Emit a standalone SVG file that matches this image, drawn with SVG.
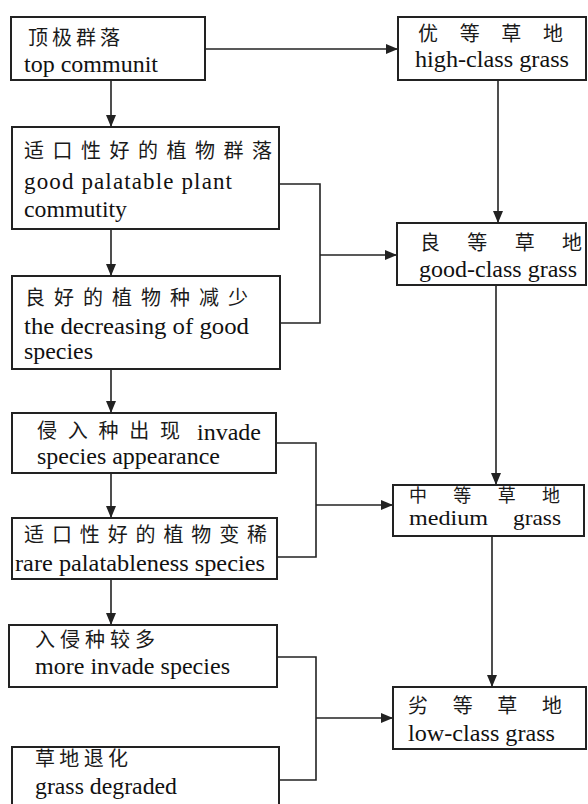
<svg xmlns="http://www.w3.org/2000/svg" width="588" height="804" viewBox="0 0 588 804">
<style>
.box{fill:#fff;stroke:#222;stroke-width:2}
.c{fill:none;stroke:#222;stroke-width:1.6}
.zh{font-family:"Noto Sans CJK SC","Noto Sans CJK JP",sans-serif;font-size:20px;fill:#1a1a1a}
.en{font-family:"Liberation Serif","Times New Roman",Times,serif;font-size:23px;fill:#111}
.sm{font-size:21px}
</style>
<defs>
<marker id="ah" markerWidth="12" markerHeight="10" refX="12" refY="5" orient="auto" markerUnits="userSpaceOnUse">
<path d="M0,0 L12,5 L0,10 z" fill="#222"/>
</marker>
</defs>
<g id="connectors">
<line class="c" x1="205" y1="49" x2="398" y2="49" marker-end="url(#ah)"/>
<line class="c" x1="111" y1="80" x2="111" y2="127" marker-end="url(#ah)"/>
<line class="c" x1="498" y1="80" x2="498" y2="223" marker-end="url(#ah)"/>
<line class="c" x1="111" y1="229" x2="111" y2="276" marker-end="url(#ah)"/>
<path class="c" d="M279,184 H320 V323 H280"/>
<line class="c" x1="320" y1="255" x2="397" y2="255" marker-end="url(#ah)"/>
<line class="c" x1="111" y1="369" x2="111" y2="413" marker-end="url(#ah)"/>
<line class="c" x1="496" y1="285" x2="496" y2="485" marker-end="url(#ah)"/>
<path class="c" d="M276,443 H316 V557 H277"/>
<line class="c" x1="316" y1="505" x2="393" y2="505" marker-end="url(#ah)"/>
<line class="c" x1="111" y1="473" x2="111" y2="518" marker-end="url(#ah)"/>
<line class="c" x1="492" y1="536" x2="492" y2="687" marker-end="url(#ah)"/>
<line class="c" x1="111" y1="579" x2="111" y2="625" marker-end="url(#ah)"/>
<path class="c" d="M277,657 H316 V780 H279"/>
<line class="c" x1="316" y1="718" x2="393" y2="718" marker-end="url(#ah)"/>
</g>
<g id="n1">
<rect class="box" x="11" y="17" width="194" height="63"/>
<text class="zh" x="28" y="45" textLength="92" lengthAdjust="spacing">顶极群落</text>
<text class="en" x="24" y="72" textLength="134" lengthAdjust="spacingAndGlyphs">top communit</text>
</g>
<g id="n2">
<rect class="box" x="12" y="127" width="267" height="102"/>
<text class="zh" x="24" y="158" textLength="248" lengthAdjust="spacing">适口性好的植物群落</text>
<text class="en" x="24" y="189" textLength="208" lengthAdjust="spacing">good palatable plant</text>
<text class="en" x="24" y="217" textLength="103" lengthAdjust="spacingAndGlyphs">commutity</text>
</g>
<g id="n3">
<rect class="box" x="12" y="276" width="268" height="93"/>
<text class="zh" x="25" y="305" textLength="223" lengthAdjust="spacing">良好的植物种减少</text>
<text class="en" x="24" y="334" textLength="225" lengthAdjust="spacingAndGlyphs">the decreasing of good</text>
<text class="en" x="24" y="359" textLength="69" lengthAdjust="spacingAndGlyphs">species</text>
</g>
<g id="n4">
<rect class="box" x="12" y="413" width="264" height="60"/>
<text class="zh" x="37" y="438" textLength="143" lengthAdjust="spacing">侵入种出现</text>
<text class="en" x="197" y="440" textLength="64" lengthAdjust="spacingAndGlyphs">invade</text>
<text class="en" x="37" y="464" textLength="183" lengthAdjust="spacingAndGlyphs">species appearance</text>
</g>
<g id="n5">
<rect class="box" x="12" y="518" width="265" height="61"/>
<text class="zh" x="24" y="542" textLength="243" lengthAdjust="spacing">适口性好的植物变稀</text>
<text class="en" x="15" y="571" textLength="250" lengthAdjust="spacingAndGlyphs">rare palatableness species</text>
</g>
<g id="n6">
<rect class="box" x="9" y="625" width="268" height="62"/>
<text class="zh" x="35" y="647" textLength="120" lengthAdjust="spacing">入侵种较多</text>
<text class="en" x="35" y="674" textLength="195" lengthAdjust="spacingAndGlyphs">more invade species</text>
</g>
<g id="n7">
<rect class="box" x="12" y="747" width="267" height="70"/>
<text class="zh" x="35" y="766" textLength="93" lengthAdjust="spacing">草地退化</text>
<text class="en" x="35" y="794" textLength="142" lengthAdjust="spacingAndGlyphs">grass degraded</text>
</g>
<g id="g1">
<rect class="box" x="398" y="17" width="188" height="63"/>
<text class="zh" x="418" y="41" textLength="145" lengthAdjust="spacing">优等草地</text>
<text class="en" x="415" y="67" textLength="154" lengthAdjust="spacingAndGlyphs">high-class grass</text>
</g>
<g id="g2">
<rect class="box" x="397" y="223" width="189" height="62"/>
<text class="zh" x="420" y="250" textLength="162" lengthAdjust="spacing">良等草地</text>
<text class="en" x="419" y="277" textLength="158" lengthAdjust="spacingAndGlyphs">good-class grass</text>
</g>
<g id="g3">
<rect class="box" x="393" y="485" width="191" height="51"/>
<text class="zh" x="409" y="502" textLength="151" lengthAdjust="spacing" style="font-size:18px">中等草地</text>
<text class="en sm" x="409" y="525" textLength="79" lengthAdjust="spacingAndGlyphs">medium</text>
<text class="en sm" x="513" y="525" textLength="48" lengthAdjust="spacingAndGlyphs">grass</text>
</g>
<g id="g4">
<rect class="box" x="393" y="687" width="193" height="62"/>
<text class="zh" x="408" y="713" textLength="154" lengthAdjust="spacing">劣等草地</text>
<text class="en" x="408" y="741" textLength="147" lengthAdjust="spacingAndGlyphs">low-class grass</text>
</g>
</svg>
